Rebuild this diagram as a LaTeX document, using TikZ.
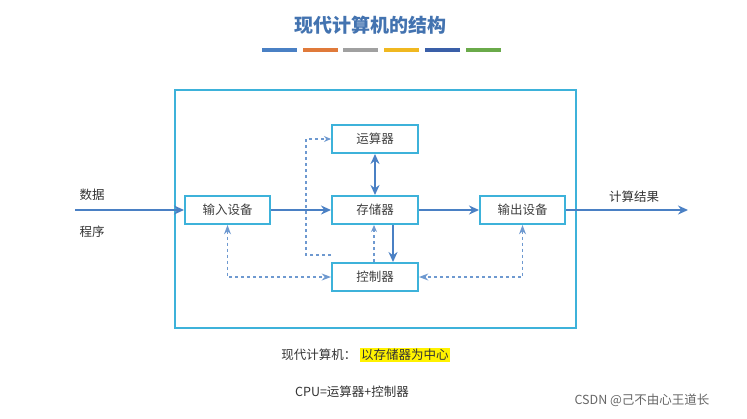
\documentclass[tikz,border=0pt]{standalone}
\usepackage{fontspec}
\setmainfont{Liberation Serif}
\newfontfamily\cjk{Noto Sans CJK SC}
\usetikzlibrary{positioning,arrows.meta}
\definecolor{boxcyan}{HTML}{3DB2DA}
\definecolor{arrowblue}{HTML}{4A80C4}
\tikzset{
  unitbox/.style={draw=boxcyan, line width=2pt, minimum width=86pt, minimum height=28pt, font=\cjk\fontsize{12.5}{14}\selectfont, text=black!75},
  flow/.style={draw=arrowblue, line width=2.8pt, -{Stealth[length=10pt,width=9pt]}},
  ctrl/.style={draw=arrowblue!80, line width=1.4pt, dashed, -{Stealth[length=7pt,width=6pt]}},
  lbl/.style={font=\cjk\fontsize{12.5}{14}\selectfont, text=black!80}
}
\begin{document}
\begin{tikzpicture}[x=1pt, y=-1pt, >=Stealth]
    \useasboundingbox (0,0) rectangle (747,418);
    % title and colour bars
    \node (title) at (370,25) {\cjk\bfseries\fontsize{19}{22}\selectfont\color{arrowblue!90!black}现代计算机的结构};
    \foreach \c [count=\i] in {4A80C4,E07A3A,A0A0A0,F0B820,3A5FA8,6AAA4A} {
        \definecolor{bar}{HTML}{\c}
        \fill[bar] ({262+(\i-1)*40.7},48) rectangle ++(35,4);
    }
    % frame
    \draw[boxcyan, line width=2.2pt] (175,90) rectangle (576,328);
    % units
    \node[unitbox] (alu) at (375,139) {运算器};
    \node[unitbox] (mem) at (375,210) {存储器};
    \node[unitbox, minimum width=85pt] (inp) at (227.5,210) {输入设备};
    \node[unitbox, minimum width=85pt] (outp) at (522.5,210) {输出设备};
    \node[unitbox] (cu) at (375,277) {控制器};
    % outside
    \coordinate (src) at (75,210);
    \coordinate (dst) at (688,210);
    \node[lbl] (data) at (92,195) {数据};
    \node[lbl] (prog) at (92,232) {程序};
    \node[lbl] (res) at (634,197) {计算结果};
    % data flow
    \draw[flow] (src) -- (inp);
    \draw[flow] (inp) -- (mem);
    \draw[flow] (mem) -- (outp);
    \draw[flow] (outp) -- (dst);
    \draw[flow, {Stealth[length=10pt,width=9pt]}-{Stealth[length=10pt,width=9pt]}] (alu) -- (mem);
    \draw[flow] ([xshift=18pt]mem.south) -- ([xshift=18pt]cu.north);
    % control
    \draw[ctrl] ([xshift=-1pt]cu.north) -- ([xshift=-1pt]mem.south);
    \draw[ctrl] ([yshift=7pt]cu.north west) -| (306,139) -- (alu.west);
    \draw[ctrl, <->] (inp.south) |- (cu.west);
    \draw[ctrl, <->] (outp.south) |- (cu.east);
    % notes
    \node[lbl, anchor=east] (note) at (360,355) {现代计算机：};
    \node[lbl, anchor=west, fill=yellow, inner sep=1pt] (focus) at (note.east) {以存储器为中心};
    \node[lbl] (cpu) at (352,392) {CPU=运算器+控制器};
    \node[lbl, text=black!60] (mark) at (642,400) {CSDN @己不由心王道长};
\end{tikzpicture}
\end{document}
